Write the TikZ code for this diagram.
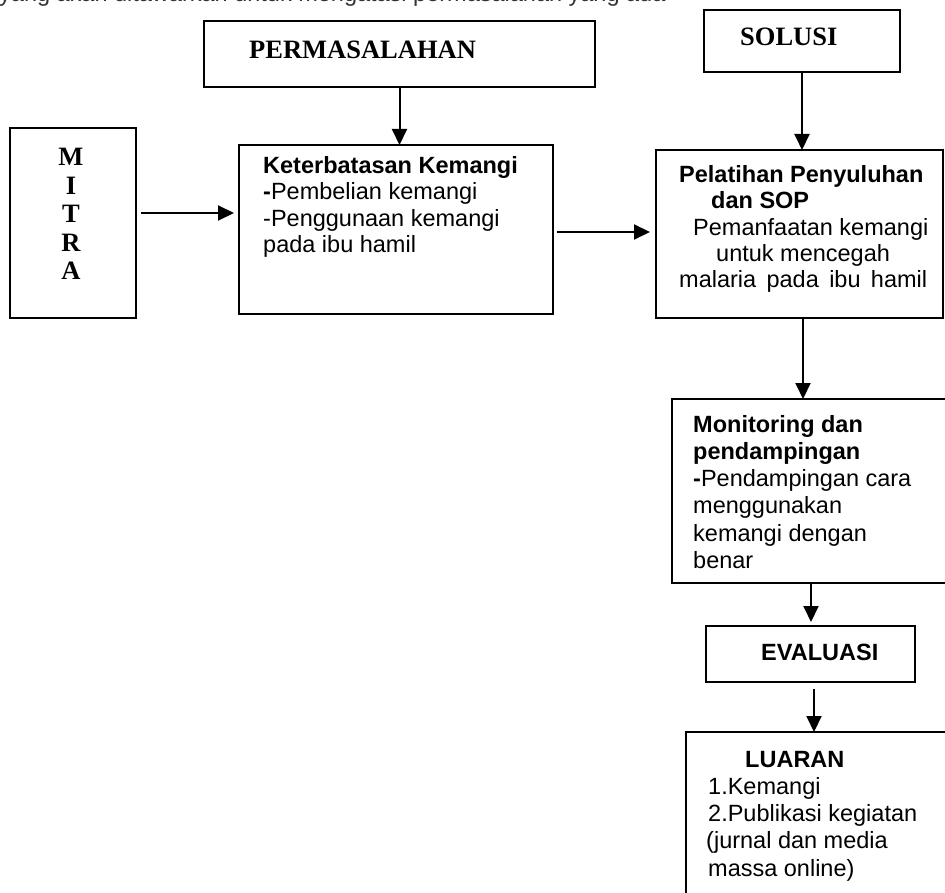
\documentclass[tikz,border=0pt]{standalone}
\usepackage{fontspec}
\newfontfamily\sansf{Liberation Sans}
\newfontfamily\seriff{Liberation Serif}
\usetikzlibrary{arrows.meta}
\begin{document}
\begin{tikzpicture}[x=1pt,y=-1pt,
  box/.style={draw, line width=2pt, inner sep=0pt, outer sep=0pt, anchor=north west},
  conn/.style={-{Triangle[length=16pt,width=15pt]}, line width=2pt},
  txt/.style={inner sep=0pt, anchor=base west, font=\sansf\fontsize{23.5}{26}\selectfont},
  btxt/.style={inner sep=0pt, anchor=base west, font=\sansf\bfseries\fontsize{23.5}{26}\selectfont},
  stxt/.style={inner sep=0pt, anchor=base west, font=\seriff\bfseries\fontsize{26.5}{30}\selectfont},
  ltr/.style={inner sep=0pt, anchor=base, font=\seriff\bfseries\fontsize{26.5}{30}\selectfont},
]
\useasboundingbox (0,0) rectangle (945,893);
\clip (0,0) rectangle (945,893);

% clipped line of text at the very top (only its lower edge shows)
\node[txt, text=black!80] (toptext) at (-1,2) {yang akan ditawarkan untuk mengatasi permasalahan yang ada};

% boxes
\node[box, minimum width=391pt, minimum height=66pt]  (perm)   at (204,21)  {};
\node[box, minimum width=196pt, minimum height=62pt]  (solusi) at (704,10)  {};
\node[box, minimum width=126pt, minimum height=190pt] (mitra)  at (10,128)  {};
\node[box, minimum width=314pt, minimum height=169pt] (kete)   at (239,145) {};
\node[box, minimum width=287pt, minimum height=168pt] (pel)    at (656,150) {};
\node[box, minimum width=300pt, minimum height=184pt] (mon)    at (672,399) {};
\node[box, minimum width=209pt, minimum height=56pt]  (eval)   at (706,626) {};
\node[box, minimum width=300pt, minimum height=200pt] (luar)   at (686,732) {};

% texts
\node[stxt] (permt) at (249,59) {PERMASALAHAN};
\node[stxt] (solt)  at (740,46) {SOLUSI};

\node[ltr] (m1) at (71,166)   {M};
\node[ltr] (m2) at (71,194.5) {I};
\node[ltr] (m3) at (71,223)   {T};
\node[ltr] (m4) at (71,251.5) {R};
\node[ltr] (m5) at (71,280)   {A};

\node[btxt] (k1) at (263,174)   {Keterbatasan Kemangi};
\node[txt]  (k2) at (263,200)   {\textbf{-}Pembelian kemangi};
\node[txt]  (k3) at (263,226.5) {-Penggunaan kemangi};
\node[txt]  (k4) at (263,253)   {pada ibu hamil};

\node[btxt] (p1) at (679,183)   {Pelatihan Penyuluhan};
\node[btxt] (p2) at (711,209)   {dan SOP};
\node[txt]  (p3) at (693,235.5) {Pemanfaatan kemangi};
\node[txt]  (p4) at (716,262)   {untuk mencegah};
\node[txt]  (p5) at (679,288)   {\makebox[248pt][s]{malaria pada ibu hamil}};

\node[btxt] (n1) at (693,432)   {Monitoring dan};
\node[btxt] (n2) at (693,459.3) {pendampingan};
\node[txt]  (n3) at (693,486.6) {\textbf{-}Pendampingan cara};
\node[txt]  (n4) at (693,513.9) {menggunakan};
\node[txt]  (n5) at (693,541.2) {kemangi dengan};
\node[txt]  (n6) at (693,568.5) {benar};

\node[btxt] (evt) at (761,660) {EVALUASI};

\node[btxt] (l1) at (745,767) {LUARAN};
\node[txt]  (l2) at (708,794) {1.Kemangi};
\node[txt]  (l3) at (708,821) {2.Publikasi kegiatan};
\node[txt]  (l4) at (706,848) {(jurnal dan media};
\node[txt]  (l5) at (708,876) {massa online)};

% connectors
\coordinate (c1) at (0,213);
\coordinate (c2) at (0,232);
\coordinate (c3) at (803,0);
\coordinate (c4) at (811,0);
\coordinate (c5) at (814,0);
\draw[conn] (perm.south) -- (perm.south |- kete.north);
\draw[conn] (solusi.south) -- (solusi.south |- pel.north);
\draw[conn, shorten <=5pt, shorten >=5pt] (mitra.east |- c1) -- (kete.west |- c1);
\draw[conn, shorten <=4pt, shorten >=6pt] (kete.east |- c2) -- (pel.west |- c2);
\draw[conn] (pel.south -| c3) -- (mon.north -| c3);
\draw[conn, shorten >=4pt] (mon.south -| c4) -- (eval.north -| c4);
\draw[conn, shorten <=7pt] (eval.south -| c5) -- (luar.north -| c5);
\end{tikzpicture}
\end{document}
